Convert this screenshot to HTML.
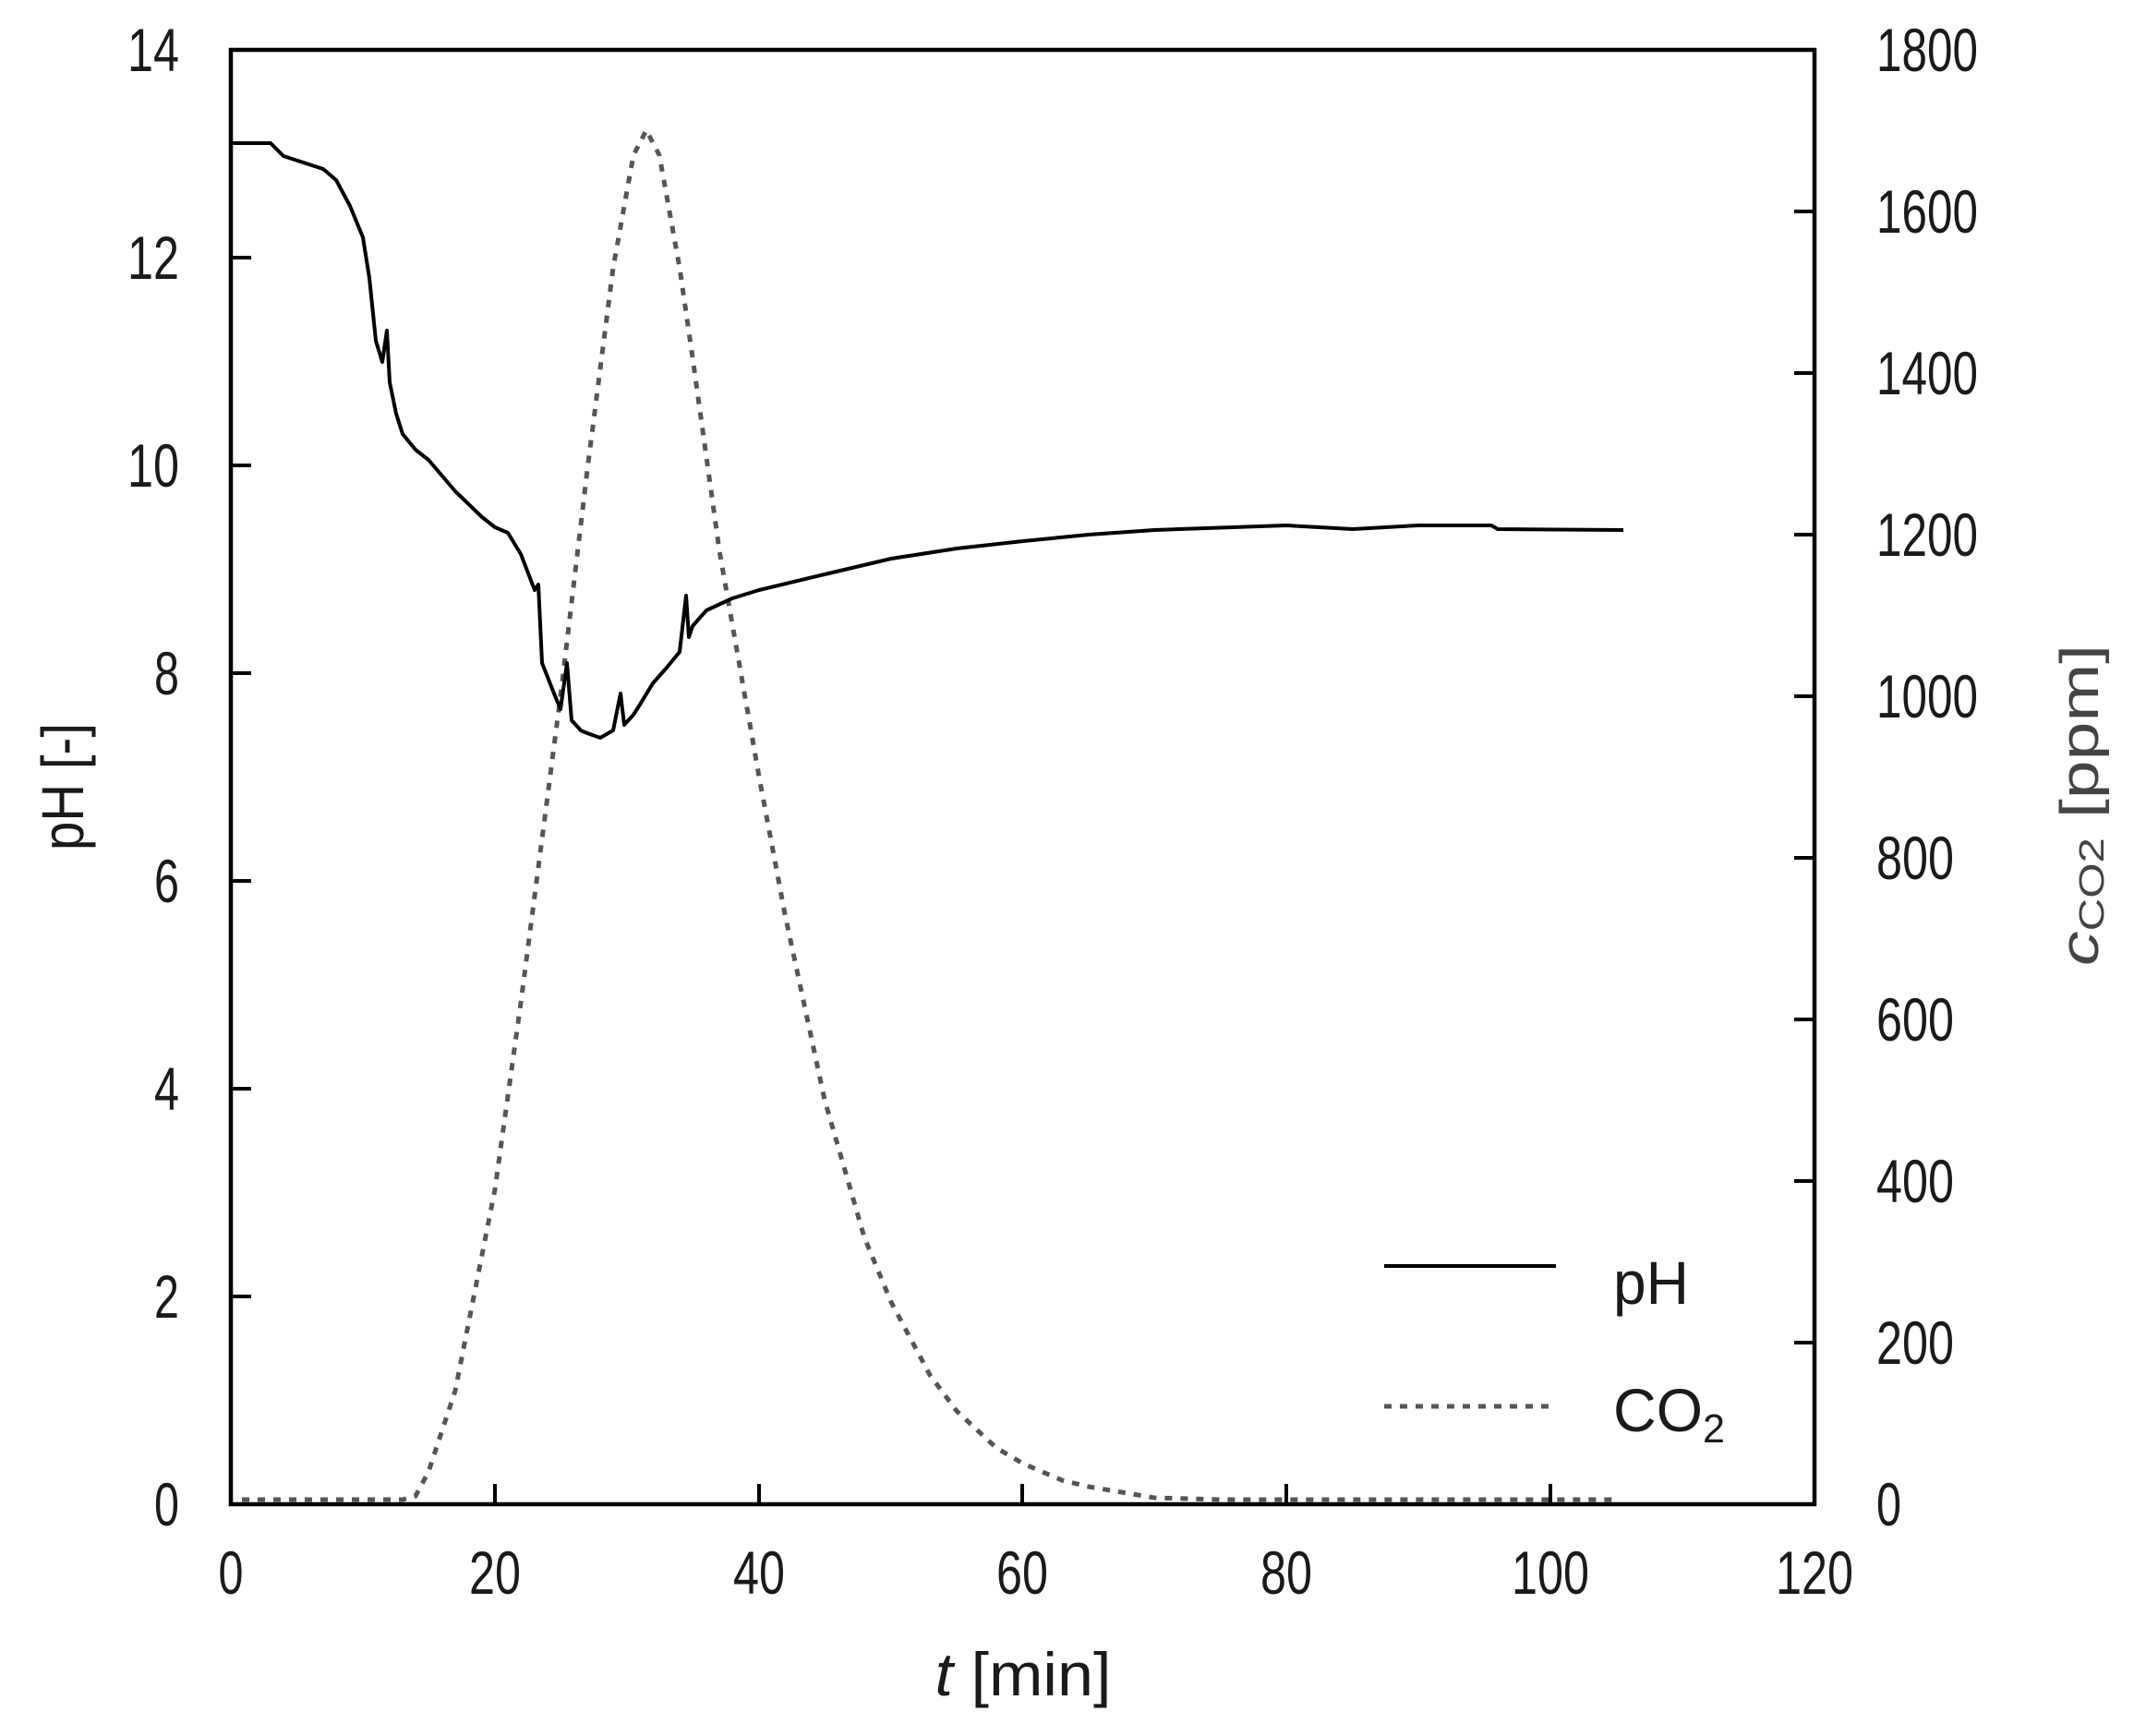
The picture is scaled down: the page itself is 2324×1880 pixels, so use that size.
<!DOCTYPE html>
<html><head><meta charset="utf-8"><style>
html,body{margin:0;padding:0;background:#fff;}
svg{display:block;}
text{font-family:"Liberation Sans",sans-serif;fill:#1a1a1a;}
</style></head><body>
<svg width="2324" height="1880" viewBox="0 0 2324 1880" xmlns="http://www.w3.org/2000/svg">
<rect width="2324" height="1880" fill="#fff"/>
<polyline fill="none" stroke="#555" stroke-width="5" stroke-dasharray="8 9" points="262,1624 436,1624 450,1620 464,1594 493,1506 536,1288 564,1086 607,754 636,509 664,290 686,168 700,141 714,168 736,290 750,387 779,596 822,841 850,990 893,1191 936,1340 965,1410 1007,1489 1036,1528 1079,1568 1108,1585 1150,1603 1179,1610 1250,1622 1322,1624 1751,1624"/>
<polyline fill="none" stroke="#000" stroke-width="4" stroke-linejoin="round" points="250,155 293,155 307,169 350,183 364,195 379,223 393,257 400,301 407,369 414,392 419,358 422,414 429,448 436,470 450,487 464,498 493,532 522,560 536,571 550,577 564,600 579,639 583,633 587,718 600,751 607,768 614,718 619,780 629,791 636,794 650,799 664,791 672,751 676,785 686,774 693,763 707,740 722,723 736,706 743,645 746,690 750,678 765,661 793,648 822,639 893,622 965,605 1036,594 1108,586 1179,579 1250,574 1393,569 1465,573 1536,569 1615,569 1622,573 1758,574"/>
<rect x="250" y="54" width="1715" height="1575" fill="none" stroke="#000" stroke-width="4.5"/>
<g stroke="#000" stroke-width="4">
<line x1="536" y1="1629" x2="536" y2="1607"/><line x1="822" y1="1629" x2="822" y2="1607"/><line x1="1107" y1="1629" x2="1107" y2="1607"/><line x1="1393" y1="1629" x2="1393" y2="1607"/><line x1="1679" y1="1629" x2="1679" y2="1607"/>
<line x1="250" y1="1404" x2="272" y2="1404"/><line x1="250" y1="1179" x2="272" y2="1179"/><line x1="250" y1="954" x2="272" y2="954"/><line x1="250" y1="729" x2="272" y2="729"/><line x1="250" y1="504" x2="272" y2="504"/><line x1="250" y1="279" x2="272" y2="279"/>
<line x1="1965" y1="1454" x2="1943" y2="1454"/><line x1="1965" y1="1279" x2="1943" y2="1279"/><line x1="1965" y1="1104" x2="1943" y2="1104"/><line x1="1965" y1="929" x2="1943" y2="929"/><line x1="1965" y1="754" x2="1943" y2="754"/><line x1="1965" y1="579" x2="1943" y2="579"/><line x1="1965" y1="404" x2="1943" y2="404"/><line x1="1965" y1="229" x2="1943" y2="229"/>
</g>
<g font-size="66" text-anchor="middle">
<text x="250" y="1726" textLength="27" lengthAdjust="spacingAndGlyphs">0</text><text x="536" y="1726" textLength="56" lengthAdjust="spacingAndGlyphs">20</text><text x="822" y="1726" textLength="56" lengthAdjust="spacingAndGlyphs">40</text><text x="1107" y="1726" textLength="56" lengthAdjust="spacingAndGlyphs">60</text><text x="1393" y="1726" textLength="56" lengthAdjust="spacingAndGlyphs">80</text><text x="1679" y="1726" textLength="84" lengthAdjust="spacingAndGlyphs">100</text><text x="1965" y="1726" textLength="84" lengthAdjust="spacingAndGlyphs">120</text>
</g>
<g font-size="66" text-anchor="end">
<text x="194" y="1652" textLength="27" lengthAdjust="spacingAndGlyphs">0</text><text x="194" y="1427" textLength="27" lengthAdjust="spacingAndGlyphs">2</text><text x="194" y="1202" textLength="27" lengthAdjust="spacingAndGlyphs">4</text><text x="194" y="977" textLength="27" lengthAdjust="spacingAndGlyphs">6</text><text x="194" y="752" textLength="27" lengthAdjust="spacingAndGlyphs">8</text><text x="194" y="527" textLength="56" lengthAdjust="spacingAndGlyphs">10</text><text x="194" y="302" textLength="56" lengthAdjust="spacingAndGlyphs">12</text><text x="194" y="77" textLength="56" lengthAdjust="spacingAndGlyphs">14</text>
</g>
<g font-size="66" text-anchor="start">
<text x="2032" y="1652" textLength="27" lengthAdjust="spacingAndGlyphs">0</text><text x="2032" y="1477" textLength="84" lengthAdjust="spacingAndGlyphs">200</text><text x="2032" y="1302" textLength="84" lengthAdjust="spacingAndGlyphs">400</text><text x="2032" y="1127" textLength="84" lengthAdjust="spacingAndGlyphs">600</text><text x="2032" y="952" textLength="84" lengthAdjust="spacingAndGlyphs">800</text><text x="2032" y="777" textLength="110" lengthAdjust="spacingAndGlyphs">1000</text><text x="2032" y="602" textLength="110" lengthAdjust="spacingAndGlyphs">1200</text><text x="2032" y="427" textLength="110" lengthAdjust="spacingAndGlyphs">1400</text><text x="2032" y="252" textLength="110" lengthAdjust="spacingAndGlyphs">1600</text><text x="2032" y="77" textLength="110" lengthAdjust="spacingAndGlyphs">1800</text>
</g>
<text x="1108" y="1836" font-size="66" text-anchor="middle" textLength="191" lengthAdjust="spacingAndGlyphs"><tspan font-style="italic">t</tspan> [min]</text>
<text transform="translate(90,852) rotate(-90)" font-size="64" text-anchor="middle" textLength="138" lengthAdjust="spacingAndGlyphs">pH [-]</text>
<text transform="translate(2272,872) rotate(-90)" font-size="58" text-anchor="middle" style="fill:#444" textLength="348" lengthAdjust="spacingAndGlyphs"><tspan font-style="italic">c</tspan><tspan font-size="38" dy="6">CO2</tspan><tspan dy="-6"> [ppm]</tspan></text>
<line x1="1499" y1="1371" x2="1685" y2="1371" stroke="#000" stroke-width="4"/>
<text x="1747" y="1412" font-size="66" textLength="82" lengthAdjust="spacingAndGlyphs">pH</text>
<line x1="1499" y1="1523" x2="1685" y2="1523" stroke="#555" stroke-width="5" stroke-dasharray="8 9"/>
<text x="1747" y="1550" font-size="66" textLength="121" lengthAdjust="spacingAndGlyphs">CO<tspan font-size="44" dy="12">2</tspan></text>
</svg>
</body></html>
